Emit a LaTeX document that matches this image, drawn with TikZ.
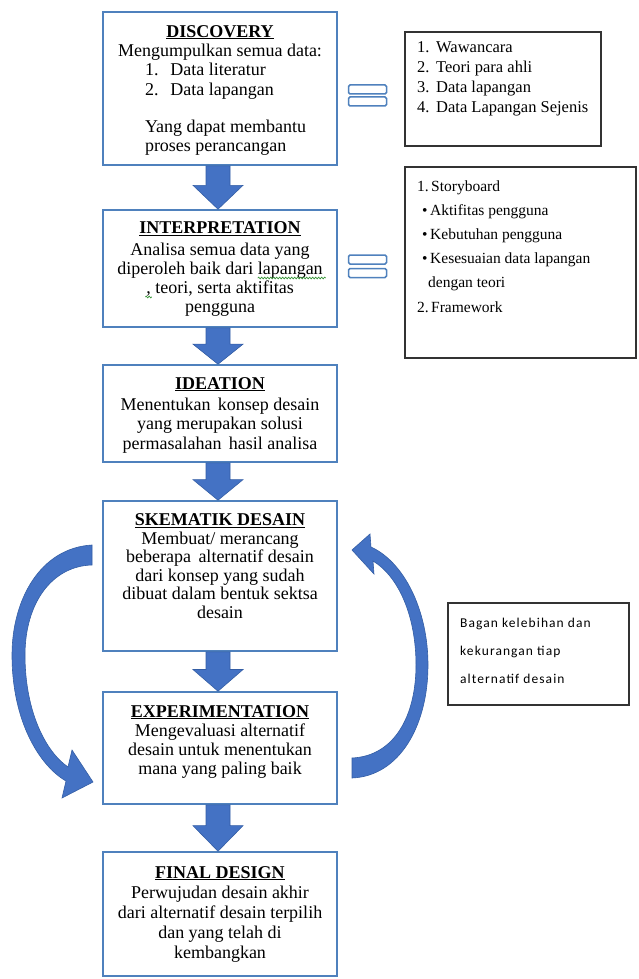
\documentclass[tikz,border=0pt]{standalone}
\usepackage{fontspec}
\setmainfont{Liberation Serif}
\newfontfamily\bagfont{Carlito}[LetterSpace=8]
\usetikzlibrary{calc,decorations.pathmorphing}
\definecolor{boxblue}{RGB}{79,129,189}
\definecolor{arrblue}{RGB}{68,114,196}
\definecolor{arredge}{RGB}{52,94,165}
\definecolor{wavegreen}{RGB}{60,150,60}
\newlength\lineAW \newlength\lapW \newlength\lineBW \newlength\commaW
\newcommand\blockarrow[2]{%
  \path[blockarr] let \p1=(#1.south), \p2=(#2.north), \p3=($(#1.south)!0.45!(#2.north)$) in
  (\x1-14pt,\y1) -- (\x1-14pt,\y3) -- (\x1-27pt,\y3) -- (\x1-2pt,\y2) --
  (\x1+23pt,\y3) -- (\x1+10pt,\y3) -- (\x1+10pt,\y1) -- cycle;}
\tikzset{
  stage/.style={draw=boxblue, line width=1.6pt, fill=white, minimum width=234pt, inner sep=0pt},
  maintxt/.style={align=center, font=\fontsize{18}{19}\selectfont, inner sep=0pt, anchor=base},
  listbox/.style={draw=black!80, line width=1.3pt, inner sep=0pt},
  listtxt/.style={align=left, font=\fontsize{16.5}{20}\selectfont, inner sep=0pt, anchor=base west},
  eqbar/.style={draw=boxblue, line width=1.5pt, fill=white, rounded corners=1.5pt,
    minimum width=38pt, minimum height=9pt, inner sep=0pt},
  blockarr/.style={fill=arrblue, draw=arredge, line width=0.6pt},
  curvarr/.style={fill=arrblue, draw=arredge, line width=0.6pt},
  squiggle/.style={draw=wavegreen, line width=0.7pt, decorate,
    decoration={snake, amplitude=0.9pt, segment length=3pt}},
}
\begin{document}
\settowidth\lineAW{\fontsize{18}{19}\selectfont diperoleh baik dari lapangan}%
\settowidth\lapW{\fontsize{18}{19}\selectfont lapangan}%
\settowidth\lineBW{\fontsize{18}{19}\selectfont , teori, serta aktifitas}%
\settowidth\commaW{\fontsize{18}{19}\selectfont ,}%
\begin{tikzpicture}[x=1pt,y=-1pt]
\useasboundingbox[fill=white] (0,0) rectangle (639,979);

% stage boxes
\node[stage, minimum height=153pt] (disc) at (220,88.5) {};
\node[stage, minimum height=117pt] (interp) at (220,268.5) {};
\node[stage, minimum height=97pt] (idea) at (220,413.5) {};
\node[stage, minimum height=150pt] (skem) at (220,576) {};
\node[stage, minimum height=112pt] (exper) at (220,748) {};
\node[stage, minimum height=124pt] (final) at (220,914) {};

% stage texts (anchored at the baseline of their last line)
\node[maintxt] (disct) at (220,151) {\underline{\textbf{DISCOVERY}}\\
  Mengumpulkan semua data:\\
  \makebox[150pt][l]{1.\hspace{12pt}Data literatur}\\[1pt]
  \makebox[150pt][l]{2.\hspace{12pt}Data lapangan}\\[18pt]
  \makebox[150pt][l]{Yang dapat membantu}\\
  \makebox[150pt][l]{proses perancangan}};
\node[maintxt] (interpt) at (220,312) {\underline{\textbf{INTERPRETATION}}\\[2.5pt]
  Analisa semua data yang\\
  diperoleh baik dari lapangan\\
  , teori, serta aktifitas\\
  pengguna};
\node[maintxt, font=\fontsize{18}{19.5}\selectfont] (ideat) at (220,449) {\underline{\textbf{IDEATION}}\\[1.5pt]
  Menentukan\, konsep desain\\
  yang merupakan solusi\\
  permasalahan\, hasil analisa};
\node[maintxt, font=\fontsize{18}{18.5}\selectfont] (skemt) at (220,618) {\underline{\textbf{SKEMATIK DESAIN}}\\
  Membuat/ merancang\\
  beberapa\, alternatif desain\\
  dari konsep yang sudah\\
  dibuat dalam bentuk sektsa\\
  desain};
\node[maintxt] (expert) at (220,774) {\underline{\textbf{EXPERIMENTATION}}\\
  Mengevaluasi alternatif\\
  desain untuk menentukan\\
  mana yang paling baik};
\node[maintxt, font=\fontsize{18}{20}\selectfont] (finalt) at (220,958) {\underline{\textbf{FINAL DESIGN}}\\
  Perwujudan desain akhir\\
  dari alternatif desain terpilih\\
  dan yang telah di\\
  kembangkan};

% spell-check squiggles
\path[squiggle] ({220pt+0.5\lineAW-\lapW},278) -- ({220pt+0.5\lineAW+3pt},278);
\path[squiggle] ({220pt-0.5\lineBW-1pt},297) -- ({220pt-0.5\lineBW+\commaW+1pt},297);

% block arrows
\blockarrow{disc}{interp}
\blockarrow{interp}{idea}
\blockarrow{idea}{skem}
\blockarrow{skem}{exper}
\blockarrow{exper}{final}

% equal signs
\node[eqbar] (eq1a) at (367.5,89.5) {};
\node[eqbar] (eq1b) at (367.5,101.5) {};
\node[eqbar] (eq2a) at (367.5,259.5) {};
\node[eqbar] (eq2b) at (367.5,273) {};

% right list boxes
\node[listbox, minimum width=196pt, minimum height=114pt] (list1) at (503,89) {};
\node[listtxt] (list1t) at (417,113) {\makebox[19pt][l]{1.}Wawancara\\
  \makebox[19pt][l]{2.}Teori para ahli\\
  \makebox[19pt][l]{3.}Data lapangan\\
  \makebox[19pt][l]{4.}Data Lapangan Sejenis};
\node[listbox, minimum width=231pt, minimum height=191pt] (list2) at (520.5,262.5) {};
\node[listtxt, font=\fontsize{15.5}{24.2}\selectfont] (list2t) at (417,312) {\makebox[14pt][l]{1.}Storyboard\\
  \hspace*{5pt}\makebox[8pt][l]{\textbullet}Aktifitas pengguna\\
  \hspace*{5pt}\makebox[8pt][l]{\textbullet}Kebutuhan pengguna\\
  \hspace*{5pt}\makebox[8pt][l]{\textbullet}Kesesuaian data lapangan\\
  \hspace*{11pt}dengan teori\\
  \makebox[14pt][l]{2.}Framework};

% side note box
\node[listbox, minimum width=181pt, minimum height=102pt] (bagan) at (538.5,654) {};
\node[anchor=base west, align=left, inner sep=0pt,
  font=\bagfont\fontsize{13.5}{28}\selectfont] (bagant) at (460,683)
  {Bagan kelebihan dan\\kekurangan tiap\\alternatif desain};

% curved arrows
\path[curvarr] (92,545) .. controls (40,548) and (12,600) .. (12,655)
  .. controls (12,722) and (40,766) .. (66,781) -- (62,798) -- (93,782) -- (72,750) -- (68,767)
  .. controls (46,752) and (25,712) .. (25,655)
  .. controls (25,603) and (52,566) .. (92,565) -- cycle;
\path[curvarr] (352,778) .. controls (400,776) and (428,725) .. (428,665)
  .. controls (428,610) and (404,562) .. (371,547) -- (370,534) -- (352,550) -- (374,574) -- (373,561)
  .. controls (398,576) and (416,615) .. (416,665)
  .. controls (416,715) and (395,756) .. (352,758) -- cycle;
\end{tikzpicture}
\end{document}
